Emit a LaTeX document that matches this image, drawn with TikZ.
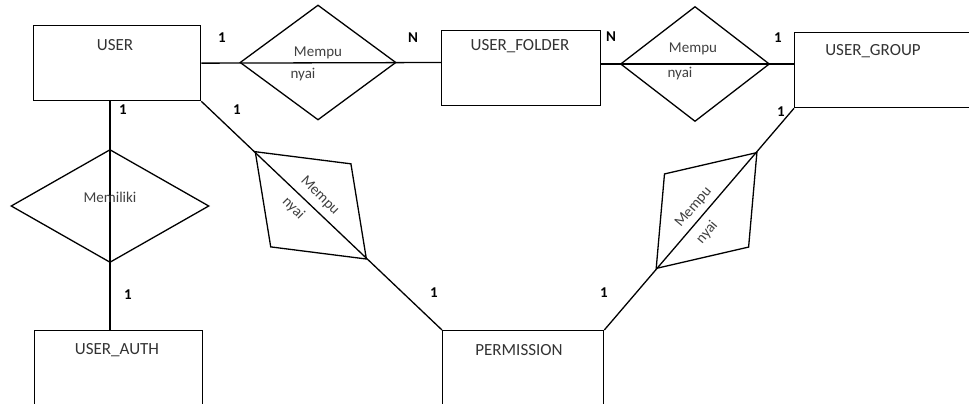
\documentclass[tikz,border=0pt]{standalone}
\usepackage{fontspec}
\setmainfont{Carlito}
\usetikzlibrary{shapes.geometric,calc}
\begin{document}
\begin{tikzpicture}[x=1pt,y=-1pt,
  ent/.style={draw, line width=1.3pt, rectangle, inner sep=0pt},
  rel/.style={draw, line width=1.3pt, diamond, inner sep=0pt},
  lnk/.style={line width=1.3pt},
  etext/.style={font=\fontsize{17}{17}\selectfont, text=black!80, inner sep=0pt},
  rtext/.style={font=\fontsize{15}{15}\selectfont, text=black!75, inner sep=0pt},
  card/.style={font=\bfseries\fontsize{15}{15}\selectfont, inner sep=0pt}
]
\useasboundingbox (0,0) rectangle (969,404);
\clip (0,0) rectangle (969,404);
% entities
\node[ent, minimum width=167, minimum height=75, anchor=north west] (user) at (33,25) {};
\node[ent, minimum width=159, minimum height=75, anchor=north west] (uf) at (441,30) {};
\node[ent, minimum width=200, minimum height=75, anchor=north west] (ug) at (794,32) {};
\node[ent, minimum width=168, minimum height=100, anchor=north west] (ua) at (34,330) {};
\node[ent, minimum width=161, minimum height=100, anchor=north west] (perm) at (442,330) {};
\node[etext] (tuser) at (115,45) {USER};
\node[etext] (tuf) at (520,46) {USER\_FOLDER};
\node[etext] (tug) at (873,51) {USER\_GROUP};
\node[etext] (tua) at (117,350) {USER\_AUTH};
\node[etext] (tperm) at (519,350) {PERMISSION};
% relationships
\node[rel, minimum width=156, minimum height=115] (r1) at (318,62.5) {};
\node[rel, minimum width=149, minimum height=115] (r2) at (695,64) {};
\node[rel, minimum width=198, minimum height=113] (r3) at (110,206) {};
\node[rel, minimum width=155, minimum height=116, rotate=-44] (r4) at ($(user.south east)!0.455!(perm.north west)$) {};
\node[rel, minimum width=154, minimum height=112, rotate=49] (r5) at ($(perm.north east)!0.539!(ug.south west)$) {};
% connectors
\draw[lnk] (user.east) -- (r1.center -| uf.west);
\draw[lnk] (r2.center -| uf.east) -- (r2.center -| ug.west);
\draw[lnk] (r3.center |- user.south) -- (r3.center |- ua.north);
\draw[lnk] (user.south east) -- (perm.north west);
\draw[lnk] (perm.north east) -- (ug.south west);
% relationship texts
\node[rtext] (m1) at ($(r1.center)+(0,-10)$) {Mempu};
\node[rtext] (n1) at ($(r1.center)+(-15,12)$) {nyai};
\node[rtext] (m2) at ($(r2.center)+(-2,-15)$) {Mempu};
\node[rtext] (n2) at ($(r2.center)+(-15,10)$) {nyai};
\node[rtext] (m3) at ($(r3.center)+(0,-9)$) {Memiliki};
\node[rtext, rotate=-45] (m4) at ($(r4.center)+(9,-9.4)$) {Mempu};
\node[rtext, rotate=-45] (n4) at ($(r4.center)+(-17.5,3)$) {nyai};
\node[rtext, rotate=50] (m5) at ($(r5.center)+(-12.9,-3.3)$) {Mempu};
\node[rtext, rotate=50] (n5) at ($(r5.center)+(0.5,22)$) {nyai};
% cardinalities
\node[card] (c1) at (222,38) {1};
\node[card] (c2) at (413,38) {N};
\node[card] (c3) at (611,37) {N};
\node[card] (c4) at (778,38) {1};
\node[card] (c5) at (123,110) {1};
\node[card] (c6) at (237,110) {1};
\node[card] (c7) at (781,112) {1};
\node[card] (c8) at (128,295) {1};
\node[card] (c9) at (434,293) {1};
\node[card] (c10) at (604,293) {1};
\end{tikzpicture}
\end{document}
